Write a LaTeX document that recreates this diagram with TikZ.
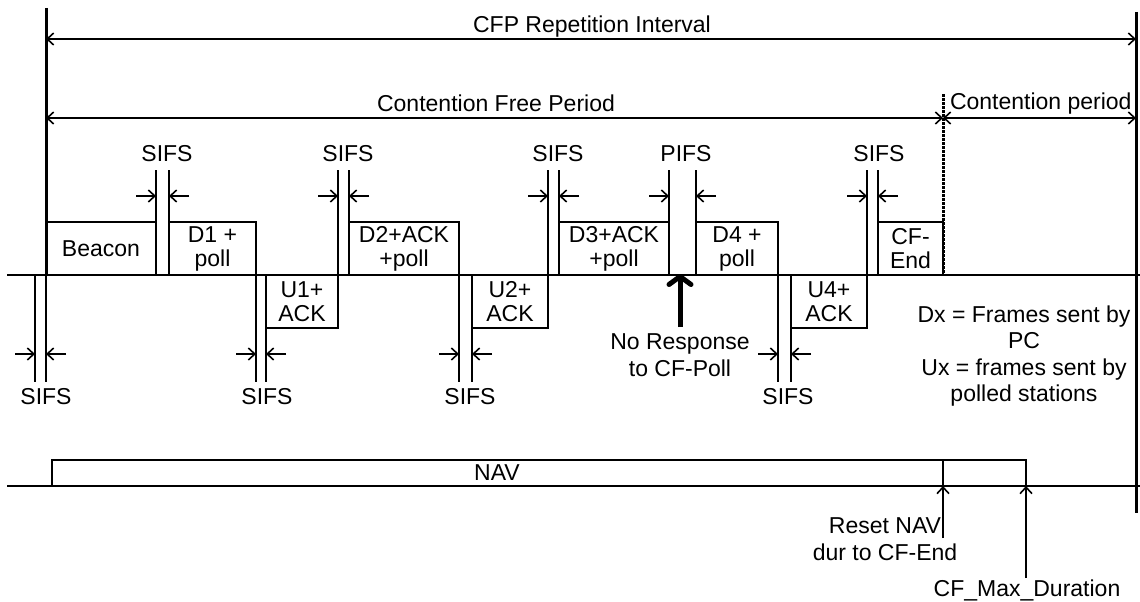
\documentclass[tikz,border=0pt]{standalone}
\usepackage{fontspec}
\setmainfont{Liberation Sans}
\usetikzlibrary{arrows.meta}
\begin{document}
\begin{tikzpicture}[x=1pt,y=-1pt,
  every node/.style={font=\fontsize{23}{24}\selectfont, inner sep=0pt, outer sep=0pt},
  frame/.style={draw, line width=2pt, minimum height=53pt, align=center},
  ln/.style={line width=2pt},
  thickln/.style={line width=3pt},
  bar/.style={-{Straight Barb[length=6.5pt,width=12pt,line width=1.6pt]}, line width=2pt},
  dim/.style={{Straight Barb[length=6.5pt,width=12pt,line width=1.6pt]}-{Straight Barb[length=6.5pt,width=12pt,line width=1.6pt]}, line width=2pt},
  lbl/.style={align=center, font=\fontsize{23}{26.5}\selectfont}
]
\useasboundingbox (0,0) rectangle (1140,602);
\newcommand\gapmark[3]{\draw[bar] (#1-20,#3) -- (#1,#3); \draw[bar] (#2+20,#3) -- (#2,#3);}

% reference coordinates
\coordinate (tt) at (0,170);
\coordinate (bb) at (0,382);

% frames
\node[frame, minimum width=110pt] (beacon) at (101,248.5) {Beacon};
\node[frame, minimum width=87pt]  (d1) at (212.5,248.5) {D1 +\\poll};
\node[frame, minimum width=72pt]  (u1) at (302,301.5) {U1+\\ACK};
\node[frame, minimum width=110pt] (d2) at (404,248.5) {D2+ACK\\+poll};
\node[frame, minimum width=76pt]  (u2) at (510,301.5) {U2+\\ACK};
\node[frame, minimum width=110pt] (d3) at (614,248.5) {D3+ACK\\+poll};
\node[frame, minimum width=82pt]  (d4) at (737,248.5) {D4 +\\poll};
\node[frame, minimum width=76pt]  (u4) at (829,301.5) {U4+\\ACK};
\node[frame, minimum width=65pt]  (cfend) at (910.5,248.5) {CF-\\End};

% time axis
\coordinate (axL) at (7,275);
\coordinate (axR) at (1140,275);
\draw[ln] (axL) -- (axR);

% big verticals
\coordinate (lt) at (46,8);
\coordinate (lb) at (46,275);
\coordinate (rt) at (1136,12);
\coordinate (rb) at (1136,513);
\draw[thickln] (lt) -- (lb);

% dotted end of CFP
\coordinate (dt) at (943,94);
\draw[line width=3pt, dash pattern=on 3pt off 1pt] (dt) -- (cfend.south east);

% top dimension arrows
\coordinate (c1l) at (46,39);  \coordinate (c1r) at (1136,39);
\coordinate (c2l) at (46,118); \coordinate (c2m) at (943,118); \coordinate (c2r) at (1136,118);
\draw[dim] (c1l) -- (c1r);
\draw[dim] (c2l) -- (c2m);
\draw[dim] (c2m) -- (c2r);
\node[anchor=base] (cfpri) at (592,33) {CFP Repetition Interval};
\node[anchor=base] (cfp) at (496,111) {Contention Free Period};
\node[anchor=base west] (cp) at (950,109) {Contention period};
\draw[thickln] (rt) -- (rb);

% top gap ticks
\draw[ln] (beacon.north east) -- (beacon.north east |- tt);
\draw[ln] (d1.north west) -- (d1.north west |- tt);
\draw[ln] (u1.north east) -- (u1.north east |- tt);
\draw[ln] (d2.north west) -- (d2.north west |- tt);
\draw[ln] (u2.north east) -- (u2.north east |- tt);
\draw[ln] (d3.north west) -- (d3.north west |- tt);
\draw[ln] (d3.north east) -- (d3.north east |- tt);
\draw[ln] (d4.north west) -- (d4.north west |- tt);
\draw[ln] (u4.north east) -- (u4.north east |- tt);
\draw[ln] (cfend.north west) -- (cfend.north west |- tt);

% bottom gap ticks
\coordinate (s0a) at (35,275);
\draw[ln] (s0a) -- (s0a |- bb);
\draw[ln] (lb) -- (lb |- bb);
\draw[ln] (d1.south east) -- (d1.south east |- bb);
\draw[ln] (u1.north west) -- (u1.north west |- bb);
\draw[ln] (d2.south east) -- (d2.south east |- bb);
\draw[ln] (u2.north west) -- (u2.north west |- bb);
\draw[ln] (d4.south east) -- (d4.south east |- bb);
\draw[ln] (u4.north west) -- (u4.north west |- bb);

% gap arrows
\gapmark{156}{169}{196}
\gapmark{338}{349}{196}
\gapmark{548}{559}{196}
\gapmark{669}{696}{196}
\gapmark{867}{878}{196}
\gapmark{35}{46}{354}
\gapmark{256}{266}{354}
\gapmark{459}{472}{354}
\gapmark{778}{791}{354}

% gap labels
\node (s1) at (167,154) {SIFS};
\node (s2) at (348,154) {SIFS};
\node (s3) at (558,154) {SIFS};
\node (p1) at (686,154) {PIFS};
\node (s4) at (879,154) {SIFS};
\node (s5) at (46,397) {SIFS};
\node (s6) at (267,397) {SIFS};
\node (s7) at (470,397) {SIFS};
\node (s8) at (788,397) {SIFS};

% no response arrow
\coordinate (nrb) at (680,327);
\coordinate (nrt) at (680,274);
\draw[line width=5pt, -{Straight Barb[length=8pt,width=22pt,round]}] (nrb) -- (nrt);
\node[lbl] (nr) at (680,355) {No Response\\to CF-Poll};

% legend
\node[lbl] (leg) at (1024,356) {Dx = Frames sent by\\PC\\Ux = frames sent by\\polled stations};

% NAV
\coordinate (nl) at (7,486);
\coordinate (nr2) at (1140,486);
\draw[ln] (nl) -- (nr2);
\coordinate (navbl) at (52,486);
\coordinate (navtr) at (1026,460);
\coordinate (maxb) at (1026,578);
\coordinate (rst) at (943,460);
\coordinate (rsb) at (943,538);
\draw[ln] (navbl) |- (navtr) -- (maxb);
\draw[ln] (rst) -- (rsb);
\draw[bar] (rsb) -- (943,486);
\draw[bar] (maxb) -- (1026,486);
\node (nav) at (497,473) {NAV};
\node[lbl] (rnav) at (885,539) {Reset NAV\\dur to CF-End};
\node (cfmax) at (1027,590) {CF\_Max\_Duration};
\end{tikzpicture}
\end{document}
